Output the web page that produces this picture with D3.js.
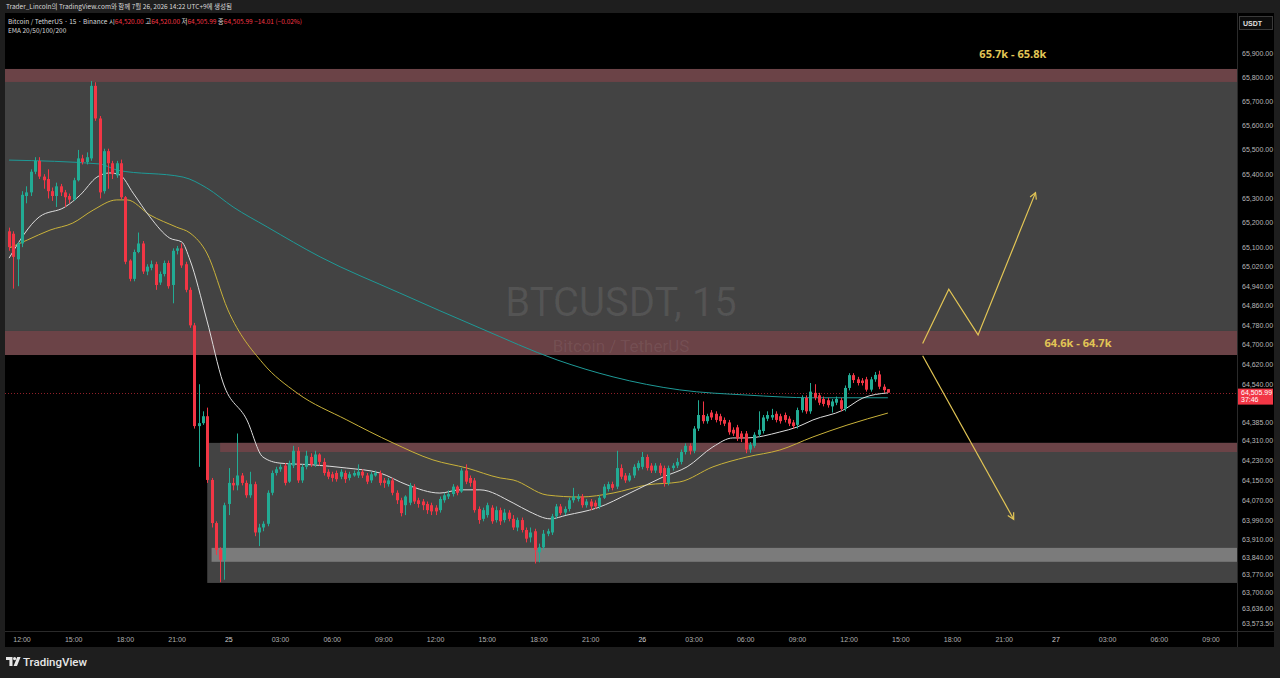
<!DOCTYPE html>
<meta charset="utf-8">
<style>
body {
  margin: 0;
  background: #1e1e1e;
}
svg {
  display: block;
}
.ax {
  font-family: "Liberation Sans Narrow", "Liberation Sans", Arial, sans-serif;
  font-size: 7px;
  fill: #b8b8b8;
}
.hdr {
  font-family: "Noto Sans CJK KR", "Noto Sans", sans-serif;
  font-size: 6.5px;
}
</style>
<body>
<script src="https://cdn.jsdelivr.net/npm/d3@7"></script>
<script>

var width = 1280,
    height = 678;

var pane = {left: 5, right: 1237, top: 13, bottom: 631, axisRight: 1274, timeBottom: 647};

// 15 minute bars, first one opens 24 Jul 11:15
var firstBar = Date.UTC(2026, 6, 24, 11, 15);
var barMs = 15 * 60 * 1000;

// [open, high, low, close]
var bars = [
  [65165, 65180, 65085, 65100], [65155, 65165, 64930, 65060], [65050, 65120, 64940, 65115], [65115, 65330, 65100, 65315],
  [65310, 65350, 65280, 65325], [65325, 65420, 65310, 65410], [65410, 65470, 65400, 65455], [65455, 65470, 65380, 65390],
  [65390, 65400, 65340, 65375], [65380, 65420, 65300, 65330], [65330, 65345, 65290, 65310], [65310, 65365, 65265, 65350],
  [65350, 65360, 65310, 65325], [65325, 65335, 65265, 65305], [65310, 65320, 65280, 65295], [65295, 65385, 65290, 65375],
  [65375, 65500, 65370, 65465], [65465, 65480, 65440, 65450], [65450, 65490, 65440, 65470], [65465, 65785, 65455, 65765],
  [65765, 65780, 65620, 65630], [65630, 65640, 65300, 65325], [65330, 65505, 65320, 65495], [65495, 65505, 65340, 65445],
  [65445, 65455, 65380, 65400], [65395, 65455, 65385, 65445], [65445, 65460, 65295, 65305], [65305, 65310, 65030, 65040],
  [65045, 65050, 64960, 64970], [64970, 65090, 64960, 65080], [65080, 65160, 65075, 65115], [65115, 65125, 64990, 65000],
  [65000, 65030, 64985, 65020], [65015, 65045, 65005, 65030], [65030, 65040, 64925, 64945], [64955, 65000, 64945, 64990],
  [64990, 65045, 64980, 65035], [65035, 65045, 64930, 64940], [64945, 65095, 64870, 65085], [65085, 65105, 65070, 65095],
  [65095, 65115, 65015, 65025], [65030, 65040, 64915, 64925], [64925, 64935, 64770, 64780], [64780, 64790, 64360, 64370],
  [64370, 64540, 64205, 64382], [64382, 64430, 64375, 64410], [64410, 64445, 64140, 64152], [64152, 64160, 63960, 63978],
  [63978, 63985, 63850, 63870], [63870, 63880, 63740, 63830], [63830, 64060, 63750, 64050], [64055, 64200, 64010, 64140],
  [64140, 64160, 64110, 64130], [64130, 64340, 64110, 64170], [64170, 64180, 64130, 64140], [64140, 64150, 64080, 64090],
  [64090, 64185, 64080, 64135], [64135, 64145, 63925, 63940], [63940, 63975, 63885, 63960], [63960, 63985, 63945, 63975],
  [63975, 64110, 63965, 64100], [64100, 64190, 64090, 64180], [64180, 64205, 64170, 64195], [64195, 64215, 64185, 64205],
  [64210, 64220, 64130, 64140], [64145, 64230, 64140, 64220], [64210, 64290, 64200, 64270], [64270, 64285, 64140, 64150],
  [64150, 64215, 64140, 64205], [64205, 64270, 64195, 64250], [64245, 64260, 64205, 64215], [64215, 64270, 64205, 64255],
  [64255, 64260, 64210, 64225], [64225, 64240, 64170, 64180], [64185, 64195, 64155, 64165], [64175, 64185, 64145, 64160],
  [64180, 64190, 64145, 64155], [64165, 64195, 64155, 64185], [64180, 64190, 64140, 64155], [64160, 64185, 64150, 64175],
  [64170, 64190, 64165, 64180], [64170, 64215, 64160, 64185], [64185, 64195, 64160, 64170], [64170, 64180, 64135, 64145],
  [64150, 64185, 64140, 64175], [64170, 64190, 64165, 64180], [64180, 64190, 64130, 64140], [64150, 64160, 64120, 64140],
  [64135, 64160, 64125, 64150], [64150, 64160, 64090, 64100], [64100, 64110, 64055, 64070], [64070, 64080, 64005, 64018],
  [64050, 64090, 64010, 64085], [64060, 64140, 64050, 64130], [64125, 64135, 64055, 64065], [64070, 64080, 64040, 64055],
  [64065, 64075, 64030, 64050], [64055, 64065, 64015, 64030], [64050, 64060, 64010, 64025], [64040, 64050, 64010, 64025],
  [64030, 64085, 64020, 64075], [64070, 64100, 64060, 64090], [64085, 64110, 64075, 64095], [64095, 64135, 64085, 64125],
  [64125, 64130, 64090, 64100], [64105, 64200, 64100, 64190], [64190, 64215, 64135, 64145], [64160, 64170, 64125, 64140],
  [64150, 64160, 64020, 64030], [64035, 64045, 63975, 63990], [63995, 64040, 63985, 64030], [64010, 64060, 64000, 64050],
  [64040, 64050, 63975, 63985], [63990, 64045, 63980, 64030], [64030, 64040, 63970, 63985], [63990, 64035, 63980, 64020],
  [64020, 64030, 63985, 63995], [63995, 64010, 63950, 63960], [63960, 64000, 63945, 63990], [63990, 64000, 63940, 63950],
  [63950, 63960, 63900, 63915], [63920, 63960, 63900, 63940], [63945, 63955, 63815, 63870], [63860, 63895, 63820, 63880],
  [63880, 63950, 63870, 63935], [63935, 63955, 63925, 63945], [63940, 64015, 63930, 64005], [64005, 64055, 63995, 64045],
  [64045, 64055, 64010, 64018], [64020, 64045, 64010, 64035], [64035, 64080, 64025, 64070], [64070, 64120, 64060, 64085],
  [64075, 64095, 64065, 64085], [64085, 64095, 64040, 64050], [64050, 64075, 64040, 64065], [64065, 64075, 64030, 64045],
  [64060, 64070, 64035, 64045], [64045, 64090, 64035, 64080], [64080, 64135, 64075, 64125], [64115, 64145, 64105, 64135],
  [64135, 64145, 64110, 64120], [64125, 64270, 64115, 64200], [64200, 64215, 64155, 64165], [64170, 64180, 64140, 64150],
  [64150, 64180, 64145, 64170], [64170, 64215, 64160, 64205], [64200, 64230, 64190, 64220], [64205, 64265, 64195, 64245],
  [64245, 64255, 64190, 64200], [64210, 64220, 64180, 64190], [64190, 64220, 64180, 64210], [64210, 64220, 64170, 64180],
  [64200, 64210, 64125, 64140], [64140, 64210, 64130, 64200], [64200, 64220, 64190, 64210], [64210, 64240, 64200, 64225],
  [64225, 64275, 64215, 64265], [64265, 64300, 64255, 64290], [64290, 64300, 64255, 64270], [64270, 64370, 64260, 64360],
  [64360, 64475, 64350, 64415], [64415, 64470, 64380, 64390], [64390, 64420, 64380, 64410], [64425, 64435, 64395, 64405],
  [64420, 64430, 64385, 64395], [64410, 64420, 64375, 64390], [64395, 64405, 64370, 64380], [64385, 64395, 64335, 64345],
  [64355, 64365, 64330, 64340], [64365, 64375, 64310, 64320], [64340, 64350, 64305, 64320], [64340, 64350, 64260, 64275],
  [64275, 64305, 64262, 64295], [64290, 64345, 64282, 64335], [64335, 64430, 64325, 64355], [64350, 64415, 64340, 64405],
  [64400, 64430, 64390, 64415], [64405, 64440, 64395, 64415], [64420, 64430, 64385, 64395], [64410, 64420, 64380, 64390],
  [64415, 64425, 64385, 64395], [64400, 64410, 64370, 64380], [64385, 64395, 64360, 64370], [64375, 64445, 64360, 64435],
  [64435, 64495, 64425, 64485], [64485, 64495, 64420, 64430], [64430, 64545, 64420, 64510], [64505, 64540, 64475, 64485],
  [64495, 64505, 64455, 64465], [64480, 64490, 64450, 64460], [64475, 64485, 64445, 64455], [64450, 64480, 64425, 64470],
  [64465, 64490, 64455, 64480], [64475, 64485, 64430, 64440], [64440, 64535, 64430, 64525], [64525, 64585, 64515, 64577],
  [64577, 64585, 64545, 64557], [64560, 64570, 64535, 64545], [64555, 64565, 64535, 64545], [64560, 64570, 64510, 64518],
  [64518, 64570, 64510, 64560], [64560, 64590, 64550, 64578], [64580, 64595, 64520, 64530], [64530, 64540, 64505, 64516],
  [64520, 64520, 64505.99, 64505.99]
];

// EMA readings, [bar index, price]
var ema20 = [[0, 65055], [7, 65224], [13, 65265], [16.5, 65314], [20.4, 65388], [23.4, 65405], [25.7, 65397],
  [28.8, 65322], [32.7, 65224], [37.3, 65137], [40.1, 65121], [42, 65047], [45.9, 64802], [49.7, 64545],
  [55.2, 64395], [58.9, 64245], [62.9, 64220], [70.5, 64213], [78.4, 64200], [86.1, 64180], [92.4, 64132],
  [100, 64099], [104.7, 64112], [109.3, 64112], [117, 64059], [120.9, 64023], [125.6, 63995], [129.5, 64010],
  [136.5, 64039], [144.1, 64099], [151.8, 64164], [157.4, 64205], [163.4, 64286], [168, 64322], [171.3, 64322],
  [178.9, 64346], [182.9, 64366], [186.6, 64395], [193.6, 64435], [198.2, 64484], [204, 64505]];
var ema50 = [[0, 65096], [4.2, 65129], [9.5, 65170], [14.8, 65199], [19.5, 65252], [25, 65294], [27.4, 65294],
  [32.7, 65232], [38.9, 65182], [42, 65158], [45.9, 65076], [50.8, 64843], [58.9, 64626], [66.8, 64505],
  [78.4, 64395], [89.1, 64302], [98.4, 64233], [106.3, 64200], [114, 64160], [117, 64152], [124.9, 64091],
  [132.5, 64083], [140.2, 64099], [148.1, 64132], [155.7, 64144], [163.4, 64205], [171.3, 64245], [178.9, 64273],
  [186.6, 64326], [194.5, 64374], [204, 64423]];
var ema200 = [[0, 65458], [21.1, 65442], [25, 65417], [40.4, 65388], [45.9, 65343], [52, 65265], [59.9, 65183],
  [72.2, 65060], [90.7, 64912], [109.3, 64769], [127.2, 64639], [140.2, 64570], [155.7, 64517], [171.3, 64496],
  [186.6, 64485], [204, 64485]];

var priceTicks = [65900, 65800, 65700, 65600, 65500, 65400, 65300, 65200, 65100, 65020, 64940, 64860, 64780,
  64700, 64620, 64540, 64385, 64310, 64230, 64150, 64070, 63990, 63910, 63840, 63770, 63700, 63636, 63573.5];

var lastPrice = 64505.99;
var countdown = "37:46";

// zones: [low, high]
var zoneTop = [65781, 65835];
var zoneGray = [64757, 65781];
var zoneMid = [64659, 64757];
var boxGray = [63737, 64302];
var boxRed = [64265, 64302];
var boxLight = [63822, 63878];
var boxStarts = [Date.UTC(2026, 6, 24, 22, 45), Date.UTC(2026, 6, 24, 23, 30), Date.UTC(2026, 6, 24, 23, 0)];

// drawn scenario, [time, price]
var upPath = [[Date.UTC(2026, 6, 26, 16, 16), 64706], [Date.UTC(2026, 6, 26, 17, 47), 64928],
  [Date.UTC(2026, 6, 26, 19, 29), 64741], [Date.UTC(2026, 6, 26, 22, 49), 65324]];
var downPath = [[Date.UTC(2026, 6, 26, 16, 16), 64656], [Date.UTC(2026, 6, 26, 21, 33), 63993]];
var notes = [
  {text: "65.7k - 65.8k", t: Date.UTC(2026, 6, 26, 21, 30), p: 65897},
  {text: "64.6k - 64.7k", t: Date.UTC(2026, 6, 27, 1, 17), p: 64706}
];

var x = d3.scaleUtc()
  .domain([Date.UTC(2026, 6, 24, 12), Date.UTC(2026, 6, 27, 9)])
  .range([22, 1211]);
var y = d3.scaleLog()
  .domain([63573.5, 65900])
  .range([623.7, 53.3]);

function barTime(i) { return firstBar + i * barMs; }

var svg = d3.select("body").append("svg")
    .attr("width", width)
    .attr("height", height);

svg.append("rect")
  .attr("x", pane.left).attr("y", pane.top)
  .attr("width", pane.axisRight - pane.left).attr("height", pane.timeBottom - pane.top)
  .style("fill", "#000");

svg.append("clipPath").attr("id", "clip")
  .append("rect")
  .attr("x", pane.left).attr("y", pane.top)
  .attr("width", pane.right - pane.left).attr("height", pane.bottom - pane.top);

var g = svg.append("g").attr("clip-path", "url(#clip)");

function band(lo, hi, start, color) {
  g.append("rect")
    .attr("x", start == null ? pane.left : x(start))
    .attr("width", pane.right - (start == null ? pane.left : x(start)))
    .attr("y", y(hi))
    .attr("height", y(lo) - y(hi))
    .style("fill", color);
}

var zoneRed = "#6b4347";
band(zoneGray[0], zoneGray[1], null, "#434343");
band(zoneTop[0], zoneTop[1], null, zoneRed);
band(zoneMid[0], zoneMid[1], null, zoneRed);
band(boxGray[0], boxGray[1], boxStarts[0], "#434343");
band(boxRed[0], boxRed[1], boxStarts[1], zoneRed);
band(boxLight[0], boxLight[1], boxStarts[2], "#7b7b7b");

// watermark
var midX = (pane.left + pane.right) / 2;
g.append("text")
  .attr("x", midX).attr("y", y(64820))
  .attr("text-anchor", "middle")
  .style("font-family", "Roboto, 'Liberation Sans', sans-serif")
  .style("font-size", "40px")
  .style("fill", "rgba(255,255,255,0.09)")
  .text("BTCUSDT, 15");
g.append("text")
  .attr("x", midX).attr("y", y(64672))
  .attr("text-anchor", "middle")
  .style("font-family", "Roboto, 'Liberation Sans', sans-serif")
  .style("font-size", "17px")
  .style("fill", "rgba(255,255,255,0.08)")
  .text("Bitcoin / TetherUS");

// last price line
g.append("line")
  .attr("x1", pane.left).attr("x2", pane.right)
  .attr("y1", Math.round(y(lastPrice)) + 0.5).attr("y2", Math.round(y(lastPrice)) + 0.5)
  .style("stroke", "#f23645").style("stroke-opacity", 0.6)
  .style("stroke-dasharray", "1,2");

// EMAs
var emaLine = d3.line()
  .x(function(d) { return x(barTime(d[0])); })
  .y(function(d) { return y(d[1]); })
  .curve(d3.curveMonotoneX);

[[ema200, "#1e9a97"], [ema50, "#c9b23a"], [ema20, "#dcdcdc"]].forEach(function(e) {
  g.append("path")
    .datum(e[0])
    .attr("d", emaLine)
    .style("fill", "none")
    .style("stroke", e[1])
    .style("stroke-width", 1);
});

// candles
var step = x(barTime(1)) - x(barTime(0));
var bodyW = Math.max(2, Math.round(step * 0.65));

var candle = g.selectAll(".candle")
  .data(bars)
  .enter().append("g")
    .attr("class", "candle")
    .style("fill", function(d) { return d[3] >= d[0] ? "#22ab94" : "#f23645"; })
    .style("stroke", function(d) { return d[3] >= d[0] ? "#22ab94" : "#f23645"; });

candle.append("line")
  .attr("x1", function(d, i) { return Math.round(x(barTime(i))) + 0.5; })
  .attr("x2", function(d, i) { return Math.round(x(barTime(i))) + 0.5; })
  .attr("y1", function(d) { return y(d[1]); })
  .attr("y2", function(d) { return y(d[2]); })
  .style("stroke-width", 1);

candle.append("rect")
  .attr("x", function(d, i) { return Math.round(x(barTime(i))) + 0.5 - bodyW / 2; })
  .attr("width", bodyW)
  .attr("y", function(d) { return y(Math.max(d[0], d[3])); })
  .attr("height", function(d) { return Math.max(1, Math.abs(y(d[0]) - y(d[3]))); })
  .style("stroke", "none");

// scenario arrows
var ann = svg.append("g")
  .style("fill", "none")
  .style("stroke", "#e2c555")
  .style("stroke-width", 1.2);

var pathLine = d3.line()
  .x(function(d) { return x(d[0]); })
  .y(function(d) { return y(d[1]); });

[upPath, downPath].forEach(function(p) {
  ann.append("path").attr("d", pathLine(p));
  var a = p[p.length - 2], b = p[p.length - 1];
  var x1 = x(a[0]), y1 = y(a[1]), x2 = x(b[0]), y2 = y(b[1]);
  var ang = Math.atan2(y2 - y1, x2 - x1);
  var head = [ang + Math.PI - 0.5, ang + Math.PI + 0.5].map(function(t) {
    return [x2 + 7 * Math.cos(t), y2 + 7 * Math.sin(t)];
  });
  ann.append("path").attr("d", "M" + head[0] + "L" + [x2, y2] + "L" + head[1]);
});

svg.selectAll(".note")
  .data(notes)
  .enter().append("text")
    .attr("class", "note")
    .attr("x", function(d) { return x(d.t); })
    .attr("y", function(d) { return y(d.p); })
    .attr("dy", "0.35em")
    .attr("text-anchor", "middle")
    .style("font-family", "'Open Sans', 'Noto Sans', sans-serif")
    .style("font-weight", "bold")
    .style("font-size", "11px")
    .style("fill", "#e2c555")
    .text(function(d) { return d.text; });

// axes frame
svg.append("line")
  .attr("x1", pane.right + 0.5).attr("x2", pane.right + 0.5)
  .attr("y1", pane.top).attr("y2", pane.timeBottom)
  .style("stroke", "#2a2a2a");
svg.append("line")
  .attr("x1", pane.left).attr("x2", pane.axisRight)
  .attr("y1", pane.bottom + 0.5).attr("y2", pane.bottom + 0.5)
  .style("stroke", "#2a2a2a");

// price axis
var fmt = d3.format(",.2f");
svg.selectAll(".ptick")
  .data(priceTicks)
  .enter().append("text")
    .attr("class", "ax")
    .attr("x", pane.right + 5)
    .attr("y", function(d) { return y(d); })
    .attr("dy", "0.35em")
    .text(function(d) { return fmt(d); });

svg.append("rect")
  .attr("x", pane.right + 2.5).attr("y", 16.5)
  .attr("width", 33).attr("height", 13)
  .style("fill", "#0c0c0c").style("stroke", "#3a3a3a");
svg.append("text")
  .attr("class", "ax")
  .attr("x", pane.right + 6).attr("y", 25.5)
  .style("font-weight", "bold").style("fill", "#e0e0e0")
  .text("USDT");

var ly = y(lastPrice);
svg.append("rect")
  .attr("x", pane.right + 1).attr("y", ly - 4)
  .attr("width", pane.axisRight - pane.right - 2).attr("height", 16)
  .style("fill", "#f23645");
svg.append("text").attr("class", "ax")
  .attr("x", pane.right + 4).attr("y", ly + 2.5)
  .style("fill", "#fff").text(fmt(lastPrice));
svg.append("text").attr("class", "ax")
  .attr("x", pane.right + 4).attr("y", ly + 9.5)
  .style("fill", "#fff").text(countdown);

// time axis
var timeTicks = d3.utcHour.every(3).range(x.domain()[0], +x.domain()[1] + 1);
svg.selectAll(".ttick")
  .data(timeTicks)
  .enter().append("text")
    .attr("class", "ax")
    .attr("x", function(d) { return x(d); })
    .attr("y", 642)
    .attr("text-anchor", "middle")
    .style("fill", function(d) { return d.getUTCHours() === 0 ? "#d0d0d0" : "#b0b0b0"; })
    .text(function(d) { return d.getUTCHours() === 0 ? d3.utcFormat("%-d")(d) : d3.utcFormat("%H:%M")(d); });

// header
svg.append("text")
  .attr("class", "hdr")
  .attr("x", 6).attr("y", 8.5)
  .style("fill", "#d8d8d8")
  .text("Trader_Lincoln의 TradingView.com와 함께 7월 26, 2026 14:22 UTC+9에 생성됨");

var legend = svg.append("text")
  .attr("class", "hdr")
  .attr("x", 8).attr("y", 24);
legend.append("tspan").style("fill", "#d8d8d8").text("Bitcoin / TetherUS · 15 · Binance  ");
var ohlcLast = bars[bars.length - 1];
var ohlcLabels = ["시", "고", "저", "종"];
[0, 1, 2, 3].forEach(function(k) {
  legend.append("tspan").style("fill", "#d8d8d8").text(ohlcLabels[k]);
  legend.append("tspan").style("fill", "#f23645").text(fmt(ohlcLast[k]) + "  ");
});
legend.append("tspan").style("fill", "#f23645")
  .text("−14.01 (−0.02%)");

svg.append("text")
  .attr("class", "hdr")
  .attr("x", 8).attr("y", 33)
  .style("fill", "#d8d8d8")
  .text("EMA 20/50/100/200");

// footer logo
var logo = svg.append("g")
  .attr("transform", "translate(6,657)")
  .style("fill", "#e8e8e8");
logo.append("path").attr("d", "M0,0H6.5V9H3.4V3H0Z");
logo.append("circle").attr("cx", 8.6).attr("cy", 1.6).attr("r", 1.6);
logo.append("path").attr("d", "M11.2,0H14.6L11,9H7.6Z");
svg.append("text")
  .attr("x", 23).attr("y", 666)
  .style("font-family", "Roboto, 'Open Sans', sans-serif")
  .style("font-size", "11.5px")
  .style("font-weight", 500)
  .style("fill", "#e8e8e8")
  .text("TradingView");

</script>
